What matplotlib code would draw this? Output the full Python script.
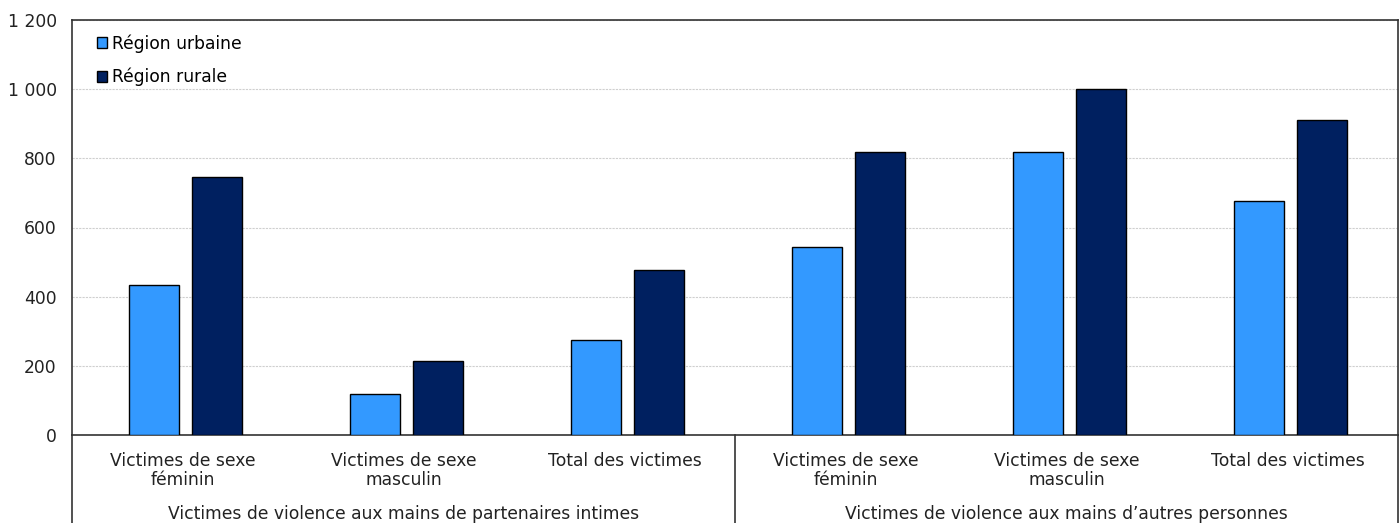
import matplotlib.pyplot as plt
import matplotlib.ticker as mticker
import numpy as np

categories = ["Victimes de sexe\nféminin", "Victimes de sexe\nmasculin", "Total des victimes",
              "Victimes de sexe\nféminin", "Victimes de sexe\nmasculin", "Total des victimes"]
groups = ["Victimes de violence aux mains de partenaires intimes",
          "Victimes de violence aux mains d\u2019autres personnes"]
urbaine = [434, 119, 275, 544, 818, 677]
rurale = [746, 214, 477, 818, 1000, 911]

fs = 12.3
txt = "#222222"

fig = plt.figure(figsize=(14, 5.23), dpi=100)
ax = fig.add_axes([72 / 1400, 88 / 523, 1326 / 1400, 415 / 523])

x = np.arange(len(categories))
w = 0.226
ax.bar(x - 0.129, urbaine, w, color="#3399FF", edgecolor="black", linewidth=1, label="Région urbaine", zorder=3)
ax.bar(x + 0.157, rurale, w, color="#002060", edgecolor="black", linewidth=1, label="Région rurale", zorder=3)

ax.set_xlim(-0.5, len(categories) - 0.5)
ax.set_ylim(0, 1200)
ax.yaxis.set_major_locator(mticker.MultipleLocator(200))
ax.yaxis.set_major_formatter(mticker.FuncFormatter(lambda v, p: f"{int(v):,}".replace(",", " ")))
ax.grid(axis="y", color="#cfcfcf", linestyle=(0, (2, 1)), linewidth=0.8, zorder=0)

for s in ax.spines.values():
    s.set_color("#333333")
    s.set_linewidth(1.2)

ax.set_xticks(x)
ax.set_xticklabels(categories, fontsize=fs, color=txt, linespacing=1.1)
ax.tick_params(axis="x", length=0, pad=12)
ax.tick_params(axis="y", length=0, pad=11, labelsize=fs, labelcolor=txt)

# group labels and separators below the axis
depth = -88 / 415
for xv in [-0.5, 2.5, 5.5]:
    ax.plot([xv, xv], [0, depth], transform=ax.get_xaxis_transform(), color="#333333",
            linewidth=1.2, clip_on=False)
for i, g in enumerate(groups):
    ax.text(1 + 3 * i, -79 / 415, g, transform=ax.get_xaxis_transform(), ha="center", va="center",
            fontsize=fs, color=txt)

ax.legend(loc="upper left", bbox_to_anchor=(0.01, 0.995), frameon=False, fontsize=fs,
          handlelength=0.6, handleheight=0.6, handletextpad=0.25, labelspacing=0.9,
          borderaxespad=0.3)

fig.savefig("out.png", dpi=100)
